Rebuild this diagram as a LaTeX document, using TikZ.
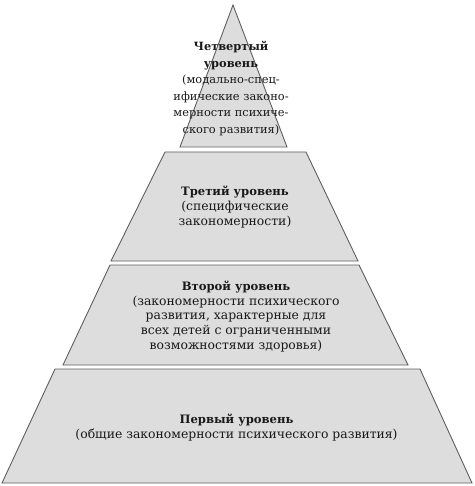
\documentclass[tikz,border=0pt]{standalone}
\usepackage{fontspec}
\setmainfont{DejaVu Serif}
\definecolor{layerfill}{RGB}{221,221,221}
\definecolor{layeredge}{RGB}{95,95,95}
\definecolor{txt}{RGB}{25,25,25}
\newcommand{\hd}[1]{{\fontsize{11.6}{15}\selectfont\bfseries #1}}
\begin{document}
\begin{tikzpicture}[x=1pt,y=-1pt,
  layer/.style={fill=layerfill,draw=layeredge,line width=0.9pt,line join=miter},
  lbl/.style={align=center,text=txt,font=\fontsize{12.4}{14.8}\selectfont,inner sep=0pt}]
\useasboundingbox (0,0) rectangle (474,486);
% fourth level (apex)
\draw[layer] (233,5) -- (287,147) -- (180,147) -- cycle;
% third level
\draw[layer] (165,152) -- (306,152) -- (358,261) -- (111,261) -- cycle;
% second level
\draw[layer] (110,265) -- (359,265) -- (408,365) -- (63,365) -- cycle;
% first level
\draw[layer] (55,369) -- (420,369) -- (472,483) -- (2,483) -- cycle;
\node[lbl,font=\fontsize{11.4}{16.6}\selectfont] (l4) at (231,88.5)
  {\textbf{Четвертый}\\\textbf{уровень}\\(модально-спец-\\ифические законо-\\мерности психиче-\\ского развития)};
\node[lbl] (l3) at (235,207) {\hd{Третий уровень}\\(специфические\\закономерности)};
\node[lbl] (l2) at (236,316.5) {\hd{Второй уровень}\\(закономерности психического\\развития, характерные для\\всех детей с ограниченными\\возможностями здоровья)};
\node[lbl] (l1) at (236.5,427.5) {\hd{Первый уровень}\\(общие закономерности психического развития)};
\end{tikzpicture}
\end{document}
